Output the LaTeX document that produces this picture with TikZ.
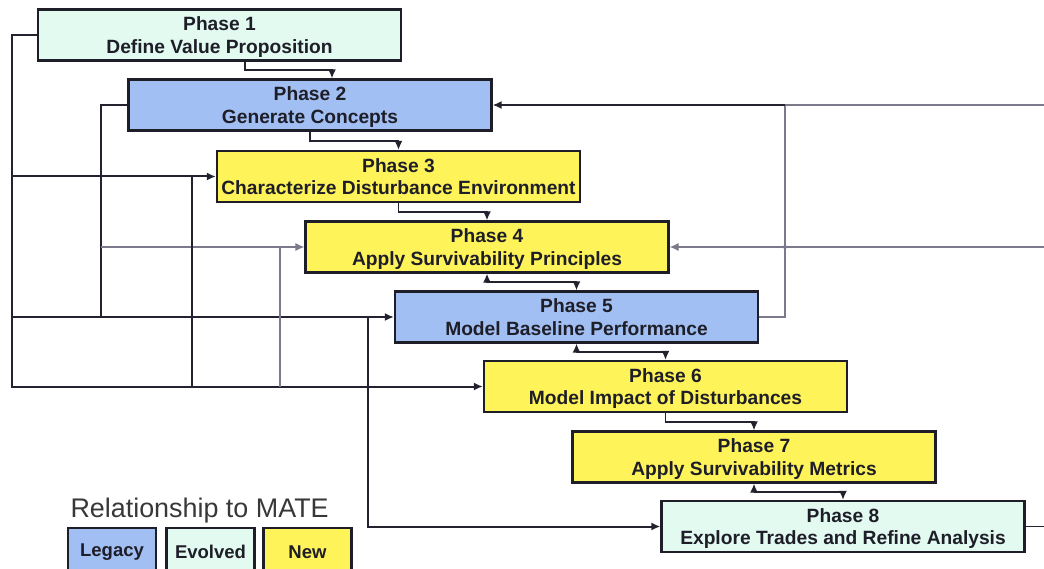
\documentclass[tikz,border=0pt]{standalone}
\usepackage{fontspec}
\setmainfont{Liberation Sans}
\usetikzlibrary{arrows.meta,calc}
\definecolor{legacy}{HTML}{A2BFF3}
\definecolor{evolved}{HTML}{E2FAF0}
\definecolor{newph}{HTML}{FFF35A}
\definecolor{ink}{HTML}{1E1E28}
\definecolor{wire}{HTML}{23232F}
\definecolor{wirelight}{HTML}{7A7A8C}
\definecolor{titlegray}{HTML}{383838}
\begin{document}
\begin{tikzpicture}[x=1pt,y=-1pt,
  phase/.style={draw=ink,line width=2.2pt,minimum width=363pt,minimum height=51pt,
    inner sep=0pt,align=center,text=ink,text depth=0pt,
    font=\fontsize{19.2}{22.5}\selectfont\bfseries},
  keybox/.style={draw=ink,line width=2.2pt,minimum width=88pt,minimum height=48pt,
    inner sep=0pt,text=ink,font=\fontsize{18.5}{22}\selectfont\bfseries},
  heavy/.style={draw=wire,line width=2pt},
  step link/.style={draw=wire,line width=1.7pt},
  light/.style={draw=wirelight,line width=1.1pt},
  arr/.style={-{Latex[length=9pt,width=8pt]}},
  biarr/.style={{Latex[length=9pt,width=8pt]}-{Latex[length=9pt,width=8pt]}},
]
\useasboundingbox (0,0) rectangle (1044,569);
\clip (0,0) rectangle (1044,569);

% phase boxes
\node[phase,fill=evolved] (p1) at (219.5,35)  {Phase 1\\Define Value Proposition};
\node[phase,fill=legacy]  (p2) at (310,105)   {Phase 2\\Generate Concepts};
\node[phase,fill=newph]   (p3) at (398.5,176.5) {Phase 3\\Characterize Disturbance Environment};
\node[phase,fill=newph]   (p4) at (487,247)   {Phase 4\\Apply Survivability Principles};
\node[phase,fill=legacy]  (p5) at (576.5,317) {Phase 5\\Model Baseline Performance};
\node[phase,fill=newph]   (p6) at (665.5,386.5) {Phase 6\\Model Impact of Disturbances};
\node[phase,fill=newph]   (p7) at (754,457)   {Phase 7\\Apply Survivability Metrics};
\node[phase,fill=evolved] (p8) at (843,526.5) {Phase 8\\Explore Trades and Refine Analysis};

% columns of the feedback network
\coordinate (c1) at (12,0);
\coordinate (c2) at (101,0);
\coordinate (c3) at (192,0);
\coordinate (c4) at (280,0);
\coordinate (c5) at (368,0);
\coordinate (cr) at (785,0);
\coordinate (edge) at (1044,0);

% phase-to-phase steps
\coordinate (o1) at ([xshift=25.5pt]p1.south);
\coordinate (i2) at ([xshift=22pt]p2.north);
\draw[step link,arr] (o1) |- ($(o1)!.5!(i2)$) -| (i2);
\draw[step link,arr] (p2.south) |- ($(p2.south)!.5!(p3.north)$) -| (p3.north);
\draw[step link,arr] (p3.south) |- ($(p3.south)!.5!(p4.north)$) -| (p4.north);
\draw[step link,biarr] (p4.south) |- ($(p4.south)!.5!(p5.north)$) -| (p5.north);
\draw[step link,biarr] (p5.south) |- ($(p5.south)!.5!(p6.north)$) -| (p6.north);
\draw[step link,arr] (p6.south) |- ($(p6.south)!.5!(p7.north)$) -| (p7.north);
\draw[step link,biarr] (p7.south) |- ($(p7.south)!.5!(p8.north)$) -| (p8.north);

% left-hand network
\draw[heavy,arr] (p1.west) -- (c1 |- p1.west) -- (c1 |- p6.west) -- (p6.west);
\draw[heavy,arr] (c1 |- p3.west) -- (p3.west);
\draw[heavy,arr] (c1 |- p5.west) -- (p5.west);
\draw[heavy] (p2.west) -- (c2 |- p2.west) -- (c2 |- p5.west);
\draw[light,arr] (c2 |- p4.west) -- (p4.west);
\draw[heavy] (c3 |- p3.west) -- (c3 |- p6.west);
\draw[light] (c4 |- p4.west) -- (c4 |- p6.west);
\draw[heavy,arr] (c5 |- p5.west) -- (c5 |- p8.west) -- (p8.west);

% right-hand network
\draw[light] (p5.east) -- (cr |- p5.east) -- (cr |- p2.east);
\draw[light] (edge |- p2.east) -- (cr |- p2.east);
\draw[heavy,arr] (cr |- p2.east) -- (p2.east);
\draw[light,arr] (edge |- p4.east) -- (p4.east);
\fill[wirelight] (cr |- p4.east) circle (2pt);
\draw[step link] (p8.east) -- (edge |- p8.east);

% legend
\node[anchor=base west,text=titlegray,font=\fontsize{26.9}{30}\selectfont] (ttl) at (67,517) {Relationship to MATE};
\node[keybox,fill=legacy]  (k1) at (112,552)   {Legacy};
\node[keybox,fill=evolved] (k2) at (210.5,552) {Evolved};
\node[keybox,fill=newph]   (k3) at (307.5,552) {New};
\end{tikzpicture}
\end{document}
